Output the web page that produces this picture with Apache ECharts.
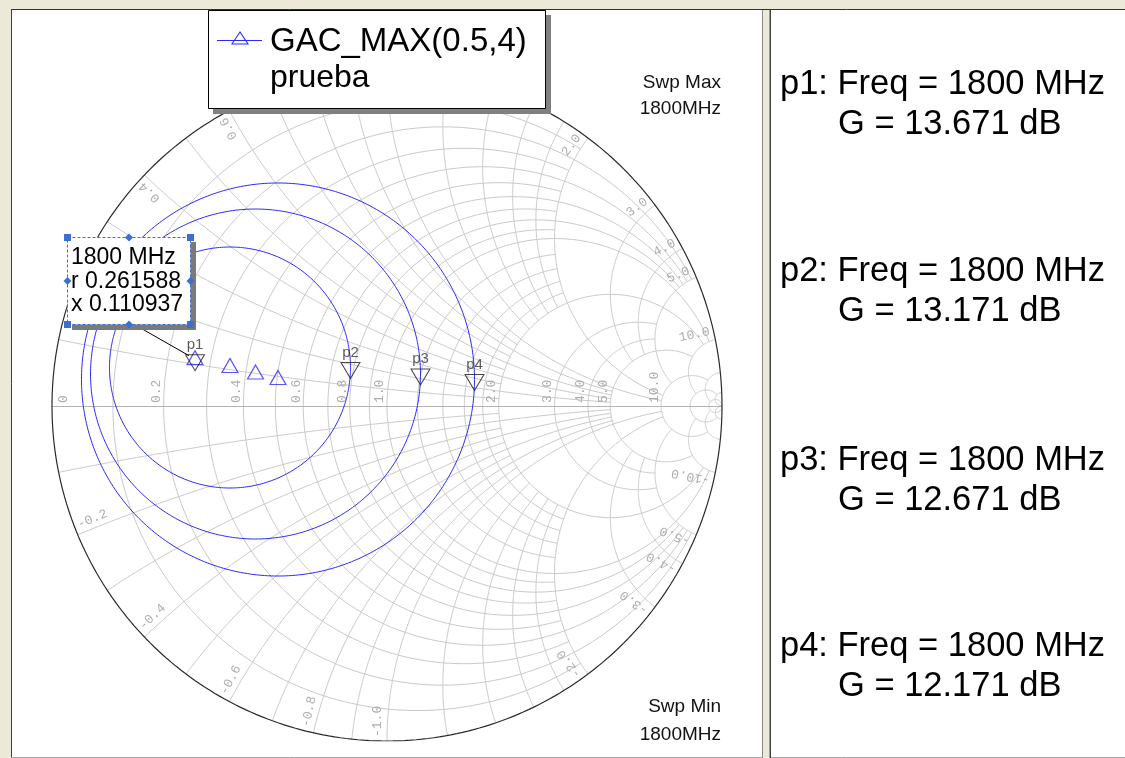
<!DOCTYPE html>
<html><head><meta charset="utf-8">
<script src="https://cdn.jsdelivr.net/npm/echarts@6/dist/echarts.min.js"></script>
<style>
html,body{margin:0;padding:0;background:#ECE9D8;overflow:hidden;}
#chart{width:1125px;height:758px;}
</style></head><body><div id="chart"></div>
<script>
// ---------------- data ----------------
const legendName = 'GAC_MAX(0.5,4)';
const docName = 'prueba';
const markerNames = ['p1', 'p2', 'p3', 'p4'];
const markerFreqMHz = [1800, 1800, 1800, 1800];
const markerGainDb = [13.671, 13.171, 12.671, 12.171];
// constant-gain circles in the reflection-coefficient plane
const circleCenterRe = [-0.5731, -0.4687, -0.3925, -0.3254];
const circleCenterIm = [0.1383, 0.1149, 0.0955, 0.0791];
const circleRadius = [0, 0.3597, 0.4925, 0.5866];
const markerAngleDeg = [0, 0, 0, 0];
const readoutFreq = '1800 MHz';
const readoutR = 0.261588;
const readoutX = 0.110937;
const resistanceTicks = [0, 0.2, 0.4, 0.6, 0.8, 1.0, 2.0, 3.0, 4.0, 5.0, 10.0];
const reactanceTicks = [0.2, 0.4, 0.6, 0.8, 1.0, 2.0, 3.0, 4.0, 5.0, 10.0];
const sweepMaxLabel = 'Swp Max';
const sweepMinLabel = 'Swp Min';
const sweepFreq = '1800MHz';

// ---------------- Smith grid structure (value, extent) ----------------
const rGrid = [[0.1,2],[0.2,5],[0.3,2],[0.4,5],[0.5,2],[0.6,5],[0.7,2],[0.8,5],[0.9,2],[1,10],
  [1.2,2],[1.4,2],[1.6,2],[1.8,2],[2,10],[3,5],[4,5],[5,10],[10,20],[20,50],[50,1e9]];
const xGrid = rGrid;

const FONT = '"Liberation Sans", Arial, sans-serif';
const MONO = '"Liberation Mono", "DejaVu Sans Mono", monospace';
const BLUE = '#2b2bff';

function gam(r, x) { const d = (r + 1) * (r + 1) + x * x; return [(r * r - 1 + x * x) / d, 2 * x / d]; }
function rCirclePts(r, L) {
  const tm = Math.atan(L / (1 + r)), n = 180, pts = [];
  for (let i = 0; i <= n; i++) { const t = -tm + 2 * tm * i / n; pts.push(gam(r, (1 + r) * Math.tan(t))); }
  return pts;
}
function xArcPts(x, L) {
  const a = Math.abs(x), s0 = Math.atan(a), s1 = Math.atan(a / (L + 1)), n = 140, pts = [];
  for (let i = 0; i <= n; i++) { const s = s0 + (s1 - s0) * i / n; const r = Math.max(0, a / Math.tan(s) - 1); pts.push(gam(r, x)); }
  return pts;
}
function circlePts(cx, cy, R, n) { const p = []; for (let i = 0; i <= n; i++) { const t = 2 * Math.PI * i / n; p.push([cx + R * Math.cos(t), cy + R * Math.sin(t)]); } return p; }

const gridLines = [];
rGrid.forEach(([r, L]) => gridLines.push({ coords: rCirclePts(r, L) }));
xGrid.forEach(([x, L]) => { gridLines.push({ coords: xArcPts(x, L) }); gridLines.push({ coords: xArcPts(-x, L) }); });

const series = [
  { type: 'lines', coordinateSystem: 'cartesian2d', polyline: true, silent: true, z: 1,
    lineStyle: { color: '#cacaca', width: 1, opacity: 1 }, data: gridLines },
  { type: 'lines', coordinateSystem: 'cartesian2d', silent: true, z: 1,
    lineStyle: { color: '#b4b4b4', width: 1, opacity: 1 }, data: [{ coords: [[-1, 0], [1, 0]] }] },
  { type: 'line', data: circlePts(0, 0, 1, 360), showSymbol: false, silent: true, z: 2,
    lineStyle: { color: '#2a2a2a', width: 1.2 } }
];
for (let i = 1; i < circleRadius.length; i++) {
  series.push({ type: 'line', name: legendName, data: circlePts(circleCenterRe[i], circleCenterIm[i], circleRadius[i], 360),
    showSymbol: false, silent: true, z: 3, lineStyle: { color: BLUE, width: 1 } });
}
series.push({ type: 'scatter', z: 4, symbol: 'triangle', symbolSize: [16, 14], symbolOffset: [0, -2],
  itemStyle: { color: 'rgba(0,0,0,0)', borderColor: BLUE, borderWidth: 1.2 },
  data: circleRadius.map((_, i) => [circleCenterRe[i], circleCenterIm[i]]) });
series.push({ type: 'scatter', z: 5, symbol: 'triangle', symbolRotate: 180, symbolSize: [19, 16], symbolOffset: [0, 3],
  itemStyle: { color: 'rgba(0,0,0,0)', borderColor: '#1a1a1a', borderWidth: 1 },
  label: { show: true, position: 'top', distance: 2, formatter: p => p.name, color: '#333', fontSize: 15, fontFamily: FONT },
  data: markerNames.map((n, i) => {
    const a = markerAngleDeg[i] * Math.PI / 180;
    return { name: n, value: [circleCenterRe[i] + circleRadius[i] * Math.cos(a), circleCenterIm[i] + circleRadius[i] * Math.sin(a)] };
  }) });

const chart = echarts.init(document.getElementById('chart'), null, { renderer: 'canvas' });
chart.setOption({
  animation: false,
  backgroundColor: 'transparent',
  grid: { left: 52, top: 71, width: 670, height: 670 },
  xAxis: { type: 'value', min: -1, max: 1, show: false },
  yAxis: { type: 'value', min: -1, max: 1, show: false },
  series: series
});

function px(g) { return chart.convertToPixel({ gridIndex: 0 }, g); }
const G = [];
// frames
G.push({ type: 'rect', z: -10, shape: { x: 12, y: 10, width: 750, height: 747 }, style: { fill: '#ffffff' } });
G.push({ type: 'rect', z: -10, shape: { x: 771, y: 10, width: 354, height: 747 }, style: { fill: '#ffffff' } });
G.push({ type: 'line', z: -9, shape: { x1: 11.5, y1: 9, x2: 11.5, y2: 758 }, style: { stroke: '#404040', lineWidth: 1 } });
G.push({ type: 'line', z: -9, shape: { x1: 11, y1: 9.5, x2: 1125, y2: 9.5 }, style: { stroke: '#303030', lineWidth: 1 } });
G.push({ type: 'line', z: -9, shape: { x1: 11, y1: 757.5, x2: 1125, y2: 757.5 }, style: { stroke: '#a8a8a8', lineWidth: 1 } });
G.push({ type: 'rect', z: -9, shape: { x: 762, y: 10, width: 9, height: 748 }, style: { fill: '#ECE9D8' } });
G.push({ type: 'line', z: -9, shape: { x1: 762.5, y1: 10, x2: 762.5, y2: 758 }, style: { stroke: '#8a8a8a', lineWidth: 1 } });
G.push({ type: 'line', z: -9, shape: { x1: 769.5, y1: 10, x2: 769.5, y2: 758 }, style: { stroke: '#9a9a90', lineWidth: 1 } });
G.push({ type: 'line', z: -9, shape: { x1: 770.5, y1: 10, x2: 770.5, y2: 758 }, style: { stroke: '#404040', lineWidth: 1 } });

// resistance labels
resistanceTicks.forEach(r => {
  const p = px([(r - 1) / (r + 1), 0]);
  const txt = r === 0 ? '0' : r.toFixed(1);
  const ax = r === 0 ? p[0] + 12 : p[0] - 7;
  G.push({ type: 'text', z: 6, x: ax, y: p[1] - 3, rotation: Math.PI / 2,
    style: { text: txt, x: 0, y: 0, fill: '#adadad', font: '13px ' + MONO, textAlign: 'left', textVerticalAlign: 'middle' } });
});
// reactance labels
reactanceTicks.forEach(x => {
  [x, -x].forEach(v => {
    const g = gam(0, v); const p = px(g);
    const th = Math.atan2(g[1], g[0]);
    const up = v > 0;
    const d = up ? th : th + Math.PI;
    const ux = Math.cos(d), uy = -Math.sin(d);
    const lx = Math.cos(d + Math.PI / 2), ly = -Math.sin(d + Math.PI / 2);
    const s = up ? -4 : 4;
    const txt = (v < 0 ? '-' : '') + Math.abs(v).toFixed(1);
    G.push({ type: 'text', z: 6, x: p[0] + s * ux + 9 * lx, y: p[1] + s * uy + 9 * ly, rotation: d,
      style: { text: txt, x: 0, y: 0, fill: '#adadad', font: '13px ' + MONO, textAlign: up ? 'right' : 'left', textVerticalAlign: 'middle' } });
  });
});

// sweep texts
[[sweepMaxLabel, 83], [sweepFreq, 109], [sweepMinLabel, 707], [sweepFreq, 735]].forEach(([t, y]) => {
  G.push({ type: 'text', z: 10, x: 721, y: y, style: { text: t, fill: '#111', font: '19px ' + FONT, textAlign: 'right', textVerticalAlign: 'middle' } });
});

// legend box
G.push({ type: 'rect', z: 20, shape: { x: 213, y: 15, width: 338, height: 99 }, style: { fill: '#808080' } });
G.push({ type: 'rect', z: 21, shape: { x: 208.5, y: 10.5, width: 337, height: 98 }, style: { fill: '#fff', stroke: '#000', lineWidth: 1 } });
G.push({ type: 'line', z: 22, shape: { x1: 217, y1: 40.5, x2: 262, y2: 40.5 }, style: { stroke: BLUE, lineWidth: 1 } });
G.push({ type: 'polygon', z: 22, shape: { points: [[240, 32], [232, 44], [248, 44]] }, style: { fill: 'none', stroke: BLUE, lineWidth: 1.1 } });
G.push({ type: 'text', z: 22, x: 270, y: 42, style: { text: legendName, fill: '#000', font: '33px ' + FONT, textAlign: 'left', textVerticalAlign: 'middle' } });
G.push({ type: 'text', z: 22, x: 270, y: 78, style: { text: docName, fill: '#000', font: '32px ' + FONT, textAlign: 'left', textVerticalAlign: 'middle' } });

// marker readout box
const p1px = px([circleCenterRe[0], circleCenterIm[0]]);
G.push({ type: 'line', z: 19, shape: { x1: 137, y1: 326, x2: p1px[0] - 6, y2: p1px[1] - 4 }, style: { stroke: '#000', lineWidth: 1 } });
G.push({ type: 'rect', z: 20, shape: { x: 72, y: 242, width: 124, height: 88 }, style: { fill: '#7a7a7a' } });
G.push({ type: 'rect', z: 21, shape: { x: 67.5, y: 237.5, width: 123, height: 87 }, style: { fill: '#fff', stroke: '#3b6fd0', lineWidth: 1, lineDash: [3, 2] } });
[readoutFreq, 'r ' + readoutR.toFixed(6), 'x ' + readoutX.toFixed(6)].forEach((t, i) => {
  G.push({ type: 'text', z: 22, x: 71, y: 258 + i * 23.5, style: { text: t, fill: '#000', font: '23px ' + FONT, textAlign: 'left', textVerticalAlign: 'middle' } });
});
[[67.5, 237.5], [190.5, 237.5], [67.5, 324.5], [190.5, 324.5]].forEach(([x, y]) => {
  G.push({ type: 'rect', z: 23, shape: { x: x - 3.5, y: y - 3.5, width: 7, height: 7 }, style: { fill: '#3b6fd0' } });
});
[[129, 237.5], [129, 324.5], [67.5, 281], [190.5, 281]].forEach(([x, y]) => {
  G.push({ type: 'polygon', z: 23, shape: { points: [[x, y - 4], [x + 4, y], [x, y + 4], [x - 4, y]] }, style: { fill: '#3b6fd0' } });
});

// right panel marker texts
const rowY = [84, 271, 460, 646];
markerNames.forEach((n, i) => {
  G.push({ type: 'text', z: 10, x: 780, y: rowY[i], style: { text: n + ': Freq = ' + markerFreqMHz[i] + ' MHz', fill: '#000', font: '34.5px ' + FONT, textAlign: 'left', textVerticalAlign: 'middle' } });
  G.push({ type: 'text', z: 10, x: 838, y: rowY[i] + 40, style: { text: 'G = ' + markerGainDb[i].toFixed(3) + ' dB', fill: '#000', font: '34.5px ' + FONT, textAlign: 'left', textVerticalAlign: 'middle' } });
});

chart.setOption({ graphic: { elements: G } });
</script></body></html>
